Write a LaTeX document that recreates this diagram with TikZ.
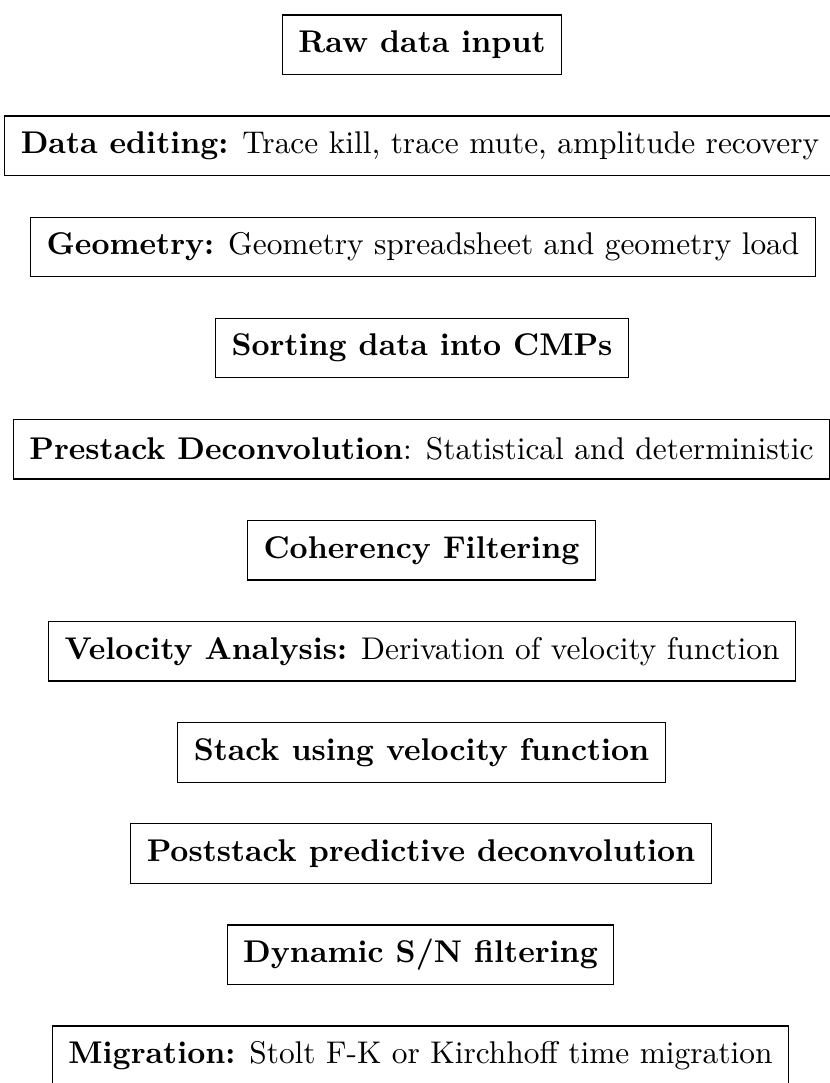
\documentclass[tikz,border=0pt]{standalone}
\usepackage{graphicx}
\tikzset{stage/.style={draw, line width=1.3pt, minimum height=59.5pt, inner xsep=16pt, inner ysep=0pt,
  font=\fontsize{10}{12}\selectfont, anchor=center}}
\newcommand\vs[1]{\scalebox{3.14}[3.14]{#1}}
\begin{document}
\begin{tikzpicture}[x=1pt,y=1pt]
\useasboundingbox (0,0) rectangle (829,-1083);
\node[stage] (raw) at (422,-44.75) {\vs{\textbf{Raw data input}}};
\node[stage] (edit) at (420,-145.85) {\vs{\textbf{Data editing:} Trace kill, trace mute, amplitude recovery}};
\node[stage] (geom) at (423,-246.95) {\vs{\textbf{Geometry:} Geometry spreadsheet and geometry load}};
\node[stage] (sort) at (422,-348.05) {\vs{\textbf{Sorting data into CMPs}}};
\node[stage] (pre) at (421.5,-449.15) {\vs{\textbf{Prestack Deconvolution}: Statistical and deterministic}};
\node[stage] (coh) at (421.5,-550.25) {\vs{\textbf{Coherency Filtering}}};
\node[stage] (vel) at (422,-651.35) {\vs{\textbf{Velocity Analysis:} Derivation of velocity function}};
\node[stage] (stack) at (421.5,-752.45) {\vs{\textbf{Stack using velocity function}}};
\node[stage] (post) at (421,-853.55) {\vs{\textbf{Poststack predictive deconvolution}}};
\node[stage] (dyn) at (420.5,-954.65) {\vs{\textbf{Dynamic S/N filtering}}};
\node[stage] (mig) at (420.5,-1055.75) {\vs{\textbf{Migration:} Stolt F-K or Kirchhoff time migration}};
\end{tikzpicture}
\end{document}
